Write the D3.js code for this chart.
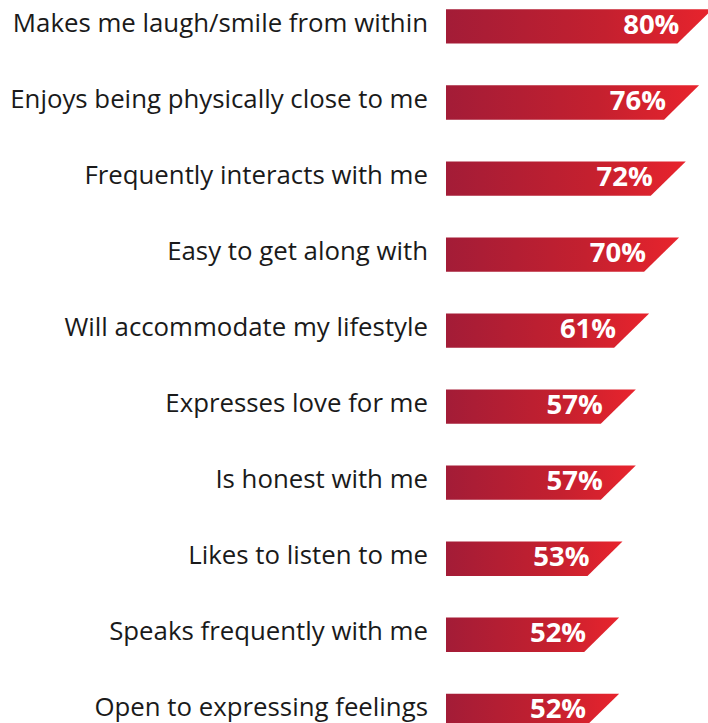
<!DOCTYPE html>
<html>
<head>
<meta charset="utf-8">
<script src="https://cdn.jsdelivr.net/npm/d3@7"></script>
<style>
  html, body { margin: 0; padding: 0; background: #ffffff; }
  svg { display: block; }
</style>
</head>
<body>
<svg id="chart" width="708" height="723"></svg>
<script>
// Traits and the share of respondents who picked each one
const categories = [
  "Makes me laugh/smile from within",
  "Enjoys being physically close to me",
  "Frequently interacts with me",
  "Easy to get along with",
  "Will accommodate my lifestyle",
  "Expresses love for me",
  "Is honest with me",
  "Likes to listen to me",
  "Speaks frequently with me",
  "Open to expressing feelings"
];
const values = [80, 76, 72, 70, 61, 57, 57, 53, 52, 52];
const valueLabels = ["80%", "76%", "72%", "70%", "61%", "57%", "57%", "53%", "52%", "52%"];

const data = categories.map((c, i) => ({ cat: c, value: values[i], label: valueLabels[i] }));

const svg = d3.select("#chart");

const barH = 34.3;
const slant = 35;
const rowStep = 76.04;
const top0 = 9.3;

const x = d3.scaleLinear().domain([0, 100]).range([446, 779]);
const y = d3.scaleBand()
  .domain(categories)
  .range([top0, top0 + rowStep * categories.length])
  .padding(0);

// Left-to-right red gradient, applied per bar
const defs = svg.append("defs");
const grad = defs.append("linearGradient")
  .attr("id", "barGrad")
  .attr("x1", "0").attr("y1", "0").attr("x2", "1").attr("y2", "0");
grad.append("stop").attr("offset", "0").attr("stop-color", "#a31c37");
grad.append("stop").attr("offset", "0.6").attr("stop-color", "#c4202f");
grad.append("stop").attr("offset", "1").attr("stop-color", "#e8242d");

const rows = svg.append("g").selectAll("g.row")
  .data(data)
  .join("g")
  .attr("class", "row");

// Bars: vertical left edge, right end cut on a diagonal
rows.append("path")
  .attr("fill", "url(#barGrad)")
  .attr("d", d => {
    const t = y(d.cat), b = t + barH;
    const x0 = x(0), xr = x(d.value);
    return `M${x0},${t} L${xr},${t} L${xr - slant},${b} L${x0},${b} Z`;
  });

// Value labels inside the bars
rows.append("text")
  .attr("x", d => x(d.value) - 33)
  .attr("y", d => y(d.cat) + 24.3)
  .attr("text-anchor", "end")
  .attr("fill", "#ffffff")
  .attr("font-family", "'Open Sans', sans-serif")
  .attr("font-weight", 700)
  .attr("font-size", 27.5)
  .text(d => d.label);

// Category labels to the left of the bars
rows.append("text")
  .attr("x", 428)
  .attr("y", d => y(d.cat) + 22.5)
  .attr("text-anchor", "end")
  .attr("fill", "#1a1a1a")
  .attr("font-family", "'Open Sans', sans-serif")
  .attr("font-size", 25.8)
  .text(d => d.cat);
</script>
</body>
</html>
